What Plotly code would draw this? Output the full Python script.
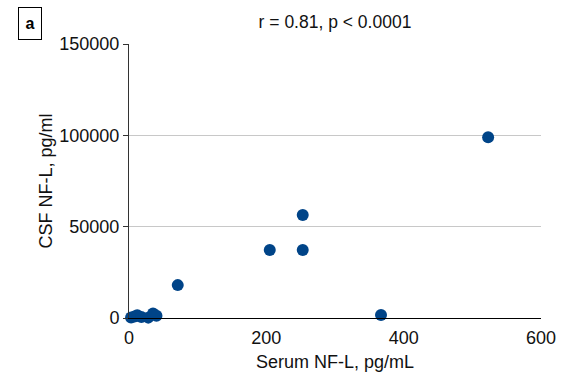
import plotly.graph_objects as go

serum = [3, 8, 12, 18, 28, 35, 40, 71, 205, 253, 253, 367, 523]
csf = [300, 800, 1500, 600, 200, 2500, 1200, 18000, 37200, 56400, 37200, 1600, 99000]

x_ticks = [0, 200, 400, 600]
y_ticks = [0, 50000, 100000, 150000]

fig = go.Figure()
fig.add_trace(go.Scatter(
    x=serum, y=csf, mode="markers",
    marker=dict(color="#004488", size=12),
    showlegend=False, cliponaxis=False,
))

fam = "Liberation Sans, Arial, sans-serif"
txt = "#111111"

fig.update_layout(
    width=561, height=376,
    margin=dict(l=129, r=20, t=44, b=58),
    paper_bgcolor="white", plot_bgcolor="white",
    font=dict(family=fam, size=18, color=txt),
    title=dict(text="r = 0.81, p < 0.0001", x=0.5, xref="paper", xanchor="center",
               y=1 - 22 / 376, yref="container", yanchor="middle",
               font=dict(size=17.5, family=fam, color=txt)),
    xaxis=dict(range=[0, 600], tickvals=x_ticks, showgrid=False, zeroline=False,
               showline=True, linecolor="#000000", linewidth=1.2, ticks="",
               ticklabelstandoff=3, automargin=False,
               title=dict(text="Serum NF-L, pg/mL", standoff=8, font=dict(size=18, family=fam, color=txt)),
               tickfont=dict(size=18, family=fam, color=txt)),
    yaxis=dict(range=[0, 150000], tickvals=y_ticks, showgrid=True, gridcolor="#c8c8c8",
               gridwidth=1, zeroline=False, showline=True, linecolor="#333333", linewidth=1,
               ticks="outside", ticklen=5, tickcolor="#333333", tickformat="d",
               automargin=False,
               title=dict(text="CSF NF-L, pg/ml", standoff=2, font=dict(size=18, family=fam, color=txt)),
               tickfont=dict(size=18, family=fam, color=txt)),
    annotations=[dict(text="<b>a</b>", xref="paper", yref="paper",
                      x=(18 - 129) / 412, y=1 + (44 - 7) / 274,
                      xanchor="left", yanchor="top", showarrow=False,
                      width=20, height=29, borderpad=1,
                      bordercolor="#000000", borderwidth=1,
                      font=dict(size=16, family=fam, color="#000000"))],
)

fig.write_html("out.html")
